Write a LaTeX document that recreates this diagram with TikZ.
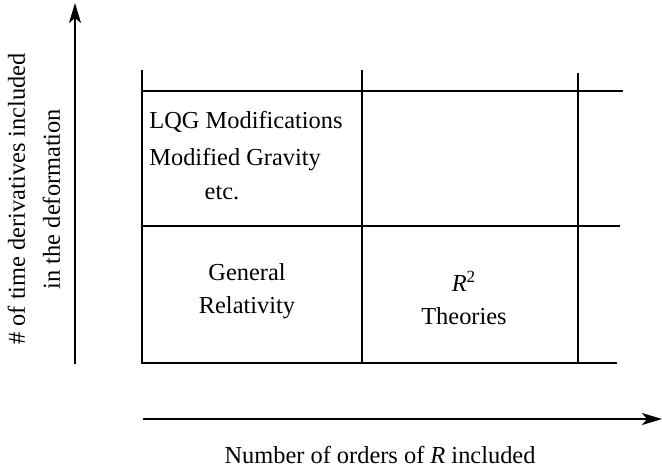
\documentclass[tikz,border=0pt]{standalone}
\usepackage{fontspec}
\setmainfont{Liberation Serif}
\usetikzlibrary{arrows.meta,positioning}
\tikzset{
  axis/.style={-{Stealth[length=10pt,width=6pt,inset=2.5pt]},black,line width=1pt},
  gridline/.style={black,line width=1pt},
  label/.style={font=\fontsize{12.2}{14.5}\selectfont,align=center,inner sep=0pt},
  celltext/.style={label},
}

\begin{document}
\begin{tikzpicture}[x=.5pt,y=-.5pt]
    \useasboundingbox (0,0) rectangle (662,468);
    % axes
    \coordinate (yfoot) at (75,364);
    \coordinate (ytip) at (75,3);
    \coordinate (xfoot) at (143,419);
    \coordinate (xtip) at (662,419);
    \draw[axis] (yfoot) -- (ytip);
    \draw[axis] (xfoot) -- (xtip);

    % table
    \draw[gridline] (142,70) -- (142,363) -- (617,363);
    \draw[gridline] (142,226) -- (620,226);
    \draw[gridline] (142,91) -- (623,91);
    \draw[gridline] (362,70) -- (362,363);
    \draw[gridline] (578,73) -- (578,363);

    % cells
    \node[celltext] (lqg) at (246,122) {LQG Modifications};
    \node[celltext,anchor=west] (modgrav) at (149,160) {Modified Gravity};
    \node[celltext] (etc) at (222,193) {etc.};
    \node[celltext] (gr) at (247,291) {General\\[2pt]Relativity};
    \node[celltext] (rsq) at (464,298) {\textit{R}\textsuperscript{2}\\[2pt]Theories};

    % axis labels
    \node[label,rotate=90] (ylabel) at (34,199)
      {\# of time derivatives included\\[3pt]in the deformation};
    \node[label] (xlabel) at (380,455) {Number of orders of \textit{R} included};
  \end{tikzpicture}
\end{document}
